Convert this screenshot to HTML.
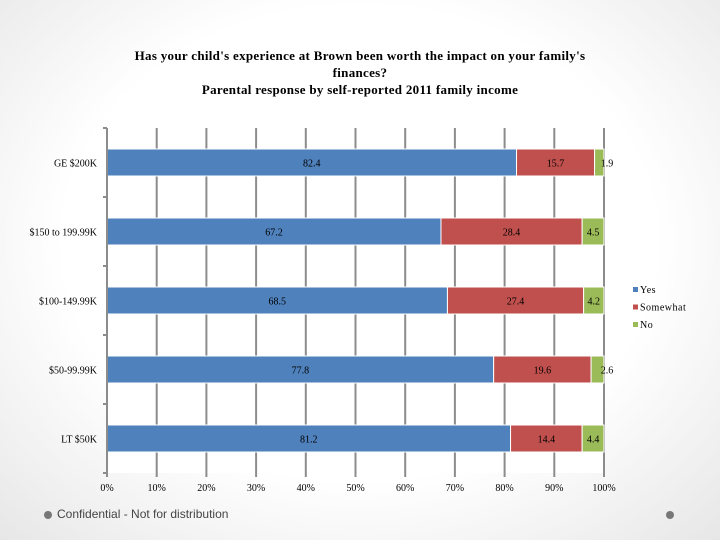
<!DOCTYPE html>
<html><head><meta charset="utf-8"><style>
body{margin:0}
#page{position:relative;width:720px;height:540px;overflow:hidden;background:radial-gradient(ellipse 75% 80% at 50% 45%,#fff 55%,#e4e4e4 100%);font-family:"Liberation Serif",serif}
.title{position:absolute;left:110px;width:500px;top:47px;text-align:center;font-weight:bold;font-size:13px;line-height:17px;color:#000;letter-spacing:0.3px}
</style></head><body>
<div id="page">
<div class="title">Has your child's experience at Brown been worth the impact on your family's finances?<br>Parental response by self-reported 2011 family income</div>
<svg id="chart" width="720" height="540" style="position:absolute;left:0;top:0"></svg>
<div style="position:absolute;left:44px;top:511px;width:8px;height:8px;border-radius:50%;background:#777"></div>
<div style="position:absolute;left:57px;top:507px;font-family:'Liberation Sans',sans-serif;font-size:12px;color:#444">Confidential - Not for distribution</div>
<div style="position:absolute;left:666px;top:511px;width:8px;height:8px;border-radius:50%;background:#777"></div>
</div>
<script>
const categories=["GE $200K","$150 to 199.99K","$100-149.99K","$50-99.99K","LT $50K"];
const yesVals=[82.4,67.2,68.5,77.8,81.2];
const somewhatVals=[15.7,28.4,27.4,19.6,14.4];
const noVals=[1.9,4.5,4.2,2.6,4.4];
const seriesNames=["Yes","Somewhat","No"];
const colors=["#4f81bd","#c0504d","#9bbb59"];
const xTicks=[0,10,20,30,40,50,60,70,80,90,100];
const NS="http://www.w3.org/2000/svg";
const svg=document.getElementById('chart');
const X0=107,X1=604,Y0=128,Y1=473;
const band=(Y1-Y0)/categories.length,barH=27;
const xs=v=>X0+(X1-X0)*v/100;
const yc=i=>Y0+band*i+band/2;
function mk(t,a){const e=document.createElementNS(NS,t);for(const k in a)e.setAttribute(k,a[k]);svg.appendChild(e);return e;}
const plot=mk('rect',{x:X0,y:Y0,width:X1-X0,height:Y1-Y0,fill:'#fff'});


xTicks.forEach(t=>{
 const l=mk('line',{x1:xs(t),x2:xs(t),y1:Y0,y2:Y1+4,stroke:'#8c8c8c','stroke-width':2});
 
 
 const tx=mk('text',{x:xs(t),y:Y1+18,'text-anchor':'middle','font-size':'10px'});
 tx.textContent=t+'%';
 
 
});
for(let i=0;i<=categories.length;i++){
 const l=mk('line',{x1:X0-4,x2:X0,y1:Y0+band*i,y2:Y0+band*i,stroke:'#8c8c8c','stroke-width':2});
 
 
}
const series=[yesVals,somewhatVals,noVals];
categories.forEach((c,i)=>{
 const lb=mk('text',{x:X0-10,y:yc(i)+4,'text-anchor':'end','font-size':'10px'});
 lb.textContent=c;
 
 
 let acc=0;
 series.forEach((s,k)=>{
  const v=s[i];const a=Math.min(acc,100),b=Math.min(acc+v,100);
  const r=mk('rect',{x:xs(a),y:yc(i)-barH/2,width:Math.max(0,xs(b)-xs(a)),height:barH,fill:colors[k],stroke:'#fff','stroke-width':1});
  
  
  let cx=(xs(a)+xs(b))/2;if(v<3)cx=Math.max(cx,xs(100)+3);
  const t=mk('text',{x:cx,y:yc(i)+4,'text-anchor':'middle','font-size':'10px'});
  t.textContent=v;
  
  
  acc+=v;
 });
 const ax=mk('line',{x1:X0,x2:X0,y1:Y0,y2:Y1+4,stroke:'#8c8c8c','stroke-width':2});
 
 
});
seriesNames.forEach((n,k)=>{
 const y=293+k*17.5;
 const sq=mk('rect',{x:633,y:y-6,width:5,height:5,fill:colors[k]});
 
 
 const t=mk('text',{x:640,y:y,'font-size':'10px','letter-spacing':'0.5px'});
 t.textContent=n;
 
 
});
</script>
</body></html>
